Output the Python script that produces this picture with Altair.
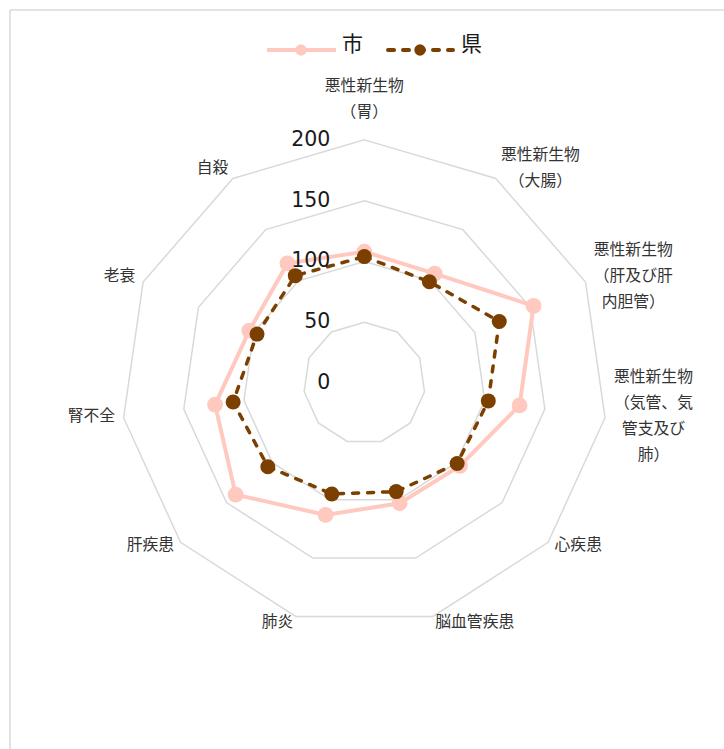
import altair as alt
import pandas as pd

# ---- data -------------------------------------------------------------
categories = [
    "悪性新生物（胃）", "悪性新生物（大腸）", "悪性新生物（肝及び肝内胆管）",
    "悪性新生物（気管、気管支及び肺）", "心疾患", "脳血管疾患", "肺炎",
    "肝疾患", "腎不全", "老衰", "自殺",
]
label_lines = [
    ["悪性新生物", "（胃）"],
    ["悪性新生物", "（大腸）"],
    ["悪性新生物", "（肝及び肝", "内胆管）"],
    ["悪性新生物", "（気管、気", "管支及び", "肺）"],
    ["心疾患"], ["脳血管疾患"], ["肺炎"], ["肝疾患"], ["腎不全"], ["老衰"], ["自殺"],
]
city = [108, 107, 153, 129, 104, 103, 113, 140, 124, 104, 117]
pref = [104, 99, 122, 103, 101, 93, 95, 105, 109, 97, 105]
series_names = ["市", "県"]
ring_levels = [50, 100, 150, 200]
tick_values = [0, 50, 100, 150, 200]

N = len(categories)
PINK = "#FFC9BF"
BROWN = "#7B3F00"
FONT = "Noto Sans CJK JP"
LINE_H = 26          # label line height, px
PX_PER_UNIT = 1.216  # pixels per data unit (from the scale domains below)

rows = []
for i in range(N):
    rows.append({"series": series_names[0], "idx": i, "value": city[i]})
    rows.append({"series": series_names[1], "idx": i, "value": pref[i]})
series_df = pd.DataFrame(rows)
ring_df = pd.DataFrame([{"ring": r, "idx": i, "value": r} for r in ring_levels for i in range(N)])
label_df = pd.DataFrame({"idx": list(range(N)), "label": label_lines, "category": categories})
tick_df = pd.DataFrame({"value": tick_values})
legend_df = pd.DataFrame({"series": series_names})

xs = alt.Scale(domain=[-291.4, 295.8])
ys = alt.Scale(domain=[-300.9, 306.8])
X = alt.X("px:Q", scale=xs, axis=None)
Y = alt.Y("py:Q", scale=ys, axis=None)


def polar(ch, r_expr="datum.value", y_extra="0"):
    return ch.transform_calculate(
        ang=f"datum.idx * 2 * PI / {N}"
    ).transform_calculate(
        px=f"({r_expr}) * sin(datum.ang)",
        py=f"({r_expr}) * cos(datum.ang) + ({y_extra})",
    )


rings = polar(alt.Chart(ring_df).mark_line(
    interpolate="linear-closed", color="#D9D9D9", strokeWidth=1.5
)).encode(x=X, y=Y, detail="ring:N", order="idx:Q")

city_line = polar(alt.Chart(series_df).transform_filter(
    alt.datum.series == series_names[0]
).mark_line(interpolate="linear-closed", color=PINK, strokeWidth=4)).encode(
    x=X, y=Y, order="idx:Q")
city_pts = polar(alt.Chart(series_df).transform_filter(
    alt.datum.series == series_names[0]
).mark_point(filled=True, shape="circle", size=250, color=PINK, opacity=1)).encode(x=X, y=Y)

pref_line = polar(alt.Chart(series_df).transform_filter(
    alt.datum.series == series_names[1]
).mark_line(interpolate="linear-closed", color=BROWN, strokeWidth=3.5,
            strokeDash=[6, 9], strokeCap="round")).encode(x=X, y=Y, order="idx:Q")
pref_pts = polar(alt.Chart(series_df).transform_filter(
    alt.datum.series == series_names[1]
).mark_point(filled=True, shape="circle", size=225, color=BROWN, opacity=1)).encode(x=X, y=Y)

ticks = alt.Chart(tick_df).transform_calculate(px="0", py="datum.value").mark_text(
    align="right", baseline="middle", dx=-34, fontSize=20.5, font="DejaVu Sans", color="#1A1A1A"
).encode(x=X, y=Y, text=alt.Text("value:Q"))

LR = 207
# shift multi-line blocks up by half their extra height so they are centred
CENTER_SHIFT = f"(length(datum.label) - 1) * {LINE_H / 2} / {PX_PER_UNIT}"


def cat_labels(filter_expr, **kw):
    return polar(alt.Chart(label_df).transform_filter(filter_expr), str(LR), CENTER_SHIFT).mark_text(
        fontSize=15.8, font=FONT, color="#333333", lineHeight=LINE_H, baseline="middle", **kw
    ).encode(x=X, y=Y, text="label")


lab_top = cat_labels("datum.idx == 0", align="center", dy=-32)
lab_rmulti = cat_labels("datum.idx >= 1 && datum.idx <= 3", align="center", dx=40, dy=-3)
lab_rsingle = cat_labels("datum.idx >= 4 && datum.idx <= 5", align="left", dy=-3)
lab_left = cat_labels("datum.idx >= 6", align="right", dy=-3)

# ---- legend (decoration) ----
leg_city = alt.Chart(legend_df).transform_filter(alt.datum.series == series_names[0])
leg_pref = alt.Chart(legend_df).transform_filter(alt.datum.series == series_names[1])
LY = 40
legend = [
    leg_city.mark_rule(color=PINK, strokeWidth=4).encode(
        x=alt.value(257), x2=alt.value(326), y=alt.value(LY)),
    leg_city.mark_point(filled=True, shape="circle", size=130, color=PINK, opacity=1).encode(
        x=alt.value(291), y=alt.value(LY)),
    leg_city.mark_text(align="left", baseline="middle", fontSize=21, font=FONT, color="#1A1A1A").encode(
        x=alt.value(332), y=alt.value(35), text="series:N"),
    leg_pref.mark_rule(color=BROWN, strokeWidth=4, strokeDash=[6, 9], strokeCap="round").encode(
        x=alt.value(378), x2=alt.value(443), y=alt.value(LY)),
    leg_pref.mark_point(filled=True, shape="circle", size=130, color=BROWN, opacity=1).encode(
        x=alt.value(410), y=alt.value(LY)),
    leg_pref.mark_text(align="left", baseline="middle", fontSize=21, font=FONT, color="#1A1A1A").encode(
        x=alt.value(451), y=alt.value(35), text="series:N"),
]

frame = [
    alt.Chart(legend_df).mark_rule(color="#D9D9D9", strokeWidth=1).encode(
        x=alt.value(0), y=alt.value(0), y2=alt.value(739)),
    alt.Chart(legend_df).mark_rule(color="#D9D9D9", strokeWidth=1).encode(
        x=alt.value(0), x2=alt.value(714), y=alt.value(0)),
]

chart = alt.layer(
    *frame, rings, city_line, city_pts, pref_line, pref_pts, ticks,
    lab_top, lab_rmulti, lab_rsingle, lab_left, *legend
).properties(
    width=714, height=739,
    padding={"left": 10, "top": 10, "right": 0, "bottom": 0},
    autosize=alt.AutoSizeParams(type="none"),
    background="white",
).configure_view(stroke=None)

chart.save("out.html", embed_options={"renderer": "svg", "actions": False})
